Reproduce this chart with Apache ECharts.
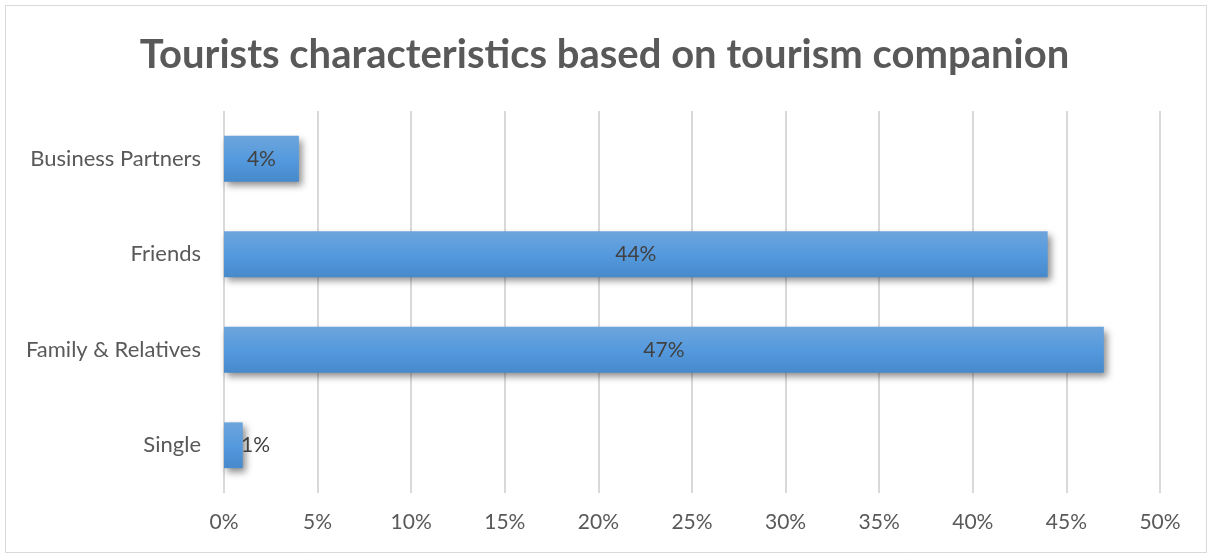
<!DOCTYPE html>
<html>
<head>
<meta charset="utf-8">
<script src="https://cdn.jsdelivr.net/npm/echarts@6/dist/echarts.min.js"></script>
<style>
  html, body { margin: 0; padding: 0; background: #fff; }
  #chart { width: 1209px; height: 556px; }
</style>
</head>
<body>
<div id="chart"></div>
<script>
// Tourism companion shares (percent), bottom-to-top order on the category axis
const categories = ['Single', 'Family & Relatives', 'Friends', 'Business Partners'];
const shares = [1, 47, 44, 4];
const xTicks = [0, 5, 10, 15, 20, 25, 30, 35, 40, 45, 50];

const FONT = 'Lato, "Open Sans", sans-serif';
const chart = echarts.init(document.getElementById('chart'), null, { renderer: 'canvas' });

const barFill = new echarts.graphic.LinearGradient(0, 0, 0, 1, [
  { offset: 0, color: '#6da5dc' },
  { offset: 0.5, color: '#559ade' },
  { offset: 1, color: '#468acb' }
]);

chart.setOption({
  backgroundColor: '#fff',
  animation: false,
  graphic: [{
    type: 'rect',
    shape: { x: 5.5, y: 5.5, width: 1201, height: 547 },
    style: { fill: 'none', stroke: '#d9d9d9', lineWidth: 1 },
    silent: true
  }],
  title: {
    text: 'Tourists characteristics based on tourism companion',
    left: 'center',
    top: 30,
    textStyle: { fontFamily: FONT, fontSize: 40, fontWeight: 'bold', color: '#595959' }
  },
  grid: { left: 224, right: 49, top: 111, bottom: 63, containLabel: false },
  xAxis: {
    type: 'value',
    min: xTicks[0],
    max: xTicks[xTicks.length - 1],
    interval: 5,
    axisLine: { show: false },
    axisTick: { show: false },
    splitLine: { show: true, lineStyle: { color: '#d9d9d9', width: 2 } },
    axisLabel: {
      formatter: v => v + '%',
      fontFamily: FONT, fontSize: 21, color: '#595959', margin: 19
    }
  },
  yAxis: {
    type: 'category',
    data: categories,
    axisLine: { show: false },
    axisTick: { show: false },
    axisLabel: { fontFamily: FONT, fontSize: 22, color: '#595959', margin: 23 }
  },
  series: [{
    type: 'bar',
    data: shares.map((v, i) => i === 0
      ? { value: v, label: { position: 'insideLeft', distance: 17 } }
      : v),
    barCategoryGap: '52%',
    itemStyle: {
      color: barFill,
      shadowColor: 'rgba(0,0,0,0.45)',
      shadowBlur: 7,
      shadowOffsetX: 3,
      shadowOffsetY: 4
    },
    label: {
      show: true,
      position: 'inside',
      formatter: p => p.value + '%',
      fontFamily: FONT, fontSize: 21, color: '#404040'
    }
  }]
});
</script>
</body>
</html>
